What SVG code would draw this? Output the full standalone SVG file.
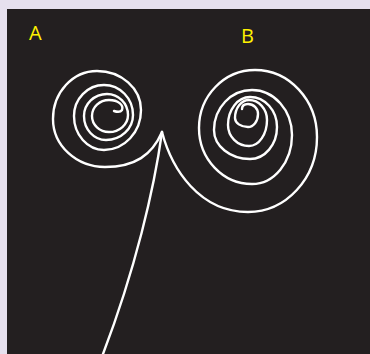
<svg xmlns="http://www.w3.org/2000/svg" width="370" height="354" viewBox="0 0 370 354">
<style>
.curve{fill:none;stroke:#ffffff;stroke-width:2.4;stroke-linecap:round;stroke-linejoin:round}
.lbl{font-family:"Open Sans","Liberation Sans",sans-serif;font-size:20px;fill:#fff200}
</style>
<rect x="0" y="0" width="370" height="354" fill="#e6e0ee"/>
<rect x="7" y="9" width="363" height="345" fill="#231f20"/>
<g id="labelA"><text class="lbl" x="29" y="40">A</text></g>
<g id="labelB"><text class="lbl" x="241" y="43">B</text></g>
<g id="curves">
<path id="spiralA" class="curve" d="M162 132 C152 155 135 167 105 167 A52 48 0 0 1 53 119 A44 48 0 0 1 97 71 A44 39 0 0 1 141 110 A37 40 0 0 1 104 150 A30 34 0 0 1 74 116 A30 31 0 0 1 104 85 A29 30 0 0 1 133 115 A27 25 0 0 1 106 140 A22 24 0 0 1 84 116 A23 22 0 0 1 107 94 A21 21 0 0 1 128 115 A19 17 0 0 1 109 132 A17 16 0 0 1 92 116 A17 16 0 0 1 109 100 C118 100 124 105 122 110 C120 113 117 112 114 111"/>
<path id="spiralB" class="curve" d="M162 132 C172 170 200 212 248 212 A69 75 0 0 0 317 137 A62 67 0 0 0 255 70 A56 58 0 0 0 199 128 A53 56 0 0 0 252 184 A40 49 0 0 0 292 135 A40 45 0 0 0 252 90 A38 40 0 0 0 214 130 A36 29 0 0 0 250 159 A27 32 0 0 0 277 127 A27 30 0 0 0 250 97 A22 28 0 0 0 228 125 A21 21 0 0 0 249 146 A18 26 0 0 0 267 120 A18 20 0 0 0 249 100 A14 18 0 0 0 235 118 A13 9 0 0 0 248 127 A10 13 0 0 0 258 114 A10 10 0 0 0 248 104 C244 104 242 106 242 109"/>
<path id="stem" class="curve" d="M162 132 C154 190 135 270 103 354"/>
</g>
</svg>
